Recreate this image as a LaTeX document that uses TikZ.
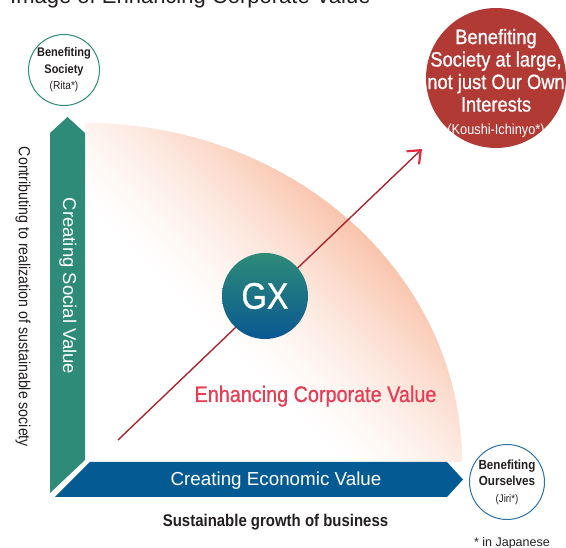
\documentclass[tikz,border=0pt]{standalone}
\usepackage{fontspec}
\setmainfont{Liberation Sans}
\newfontfamily\condfont[FakeStretch=0.88]{Liberation Sans}
\newfontfamily\medfont[FakeStretch=0.88, FakeBold=0.8]{Liberation Sans}
\usetikzlibrary{arrows.meta}

\definecolor{socialGreen}{HTML}{2E8B78}
\definecolor{economicBlue}{HTML}{045B94}
\definecolor{gxBlue}{HTML}{0A5892}
\definecolor{koushiRed}{HTML}{B23A35}
\definecolor{valuePink}{HTML}{E83C55}
\definecolor{arrowLine}{HTML}{A8262E}
\definecolor{arrowTip}{HTML}{E8283F}
\definecolor{fanSalmon}{HTML}{F8BEA4}
\definecolor{textGray}{HTML}{231F20}
\definecolor{jiriBlue}{HTML}{2A72AA}

\newcommand{\setsize}[2]{\fontsize{#1}{#2}\selectfont}

\tikzset{
	benefit/.style={circle, fill=white, line width=1pt, inner sep=0pt, align=center, text=textGray},
	onArrow/.style={text=white, inner sep=0pt},
	axisText/.style={text=textGray, inner sep=0pt}
}

\begin{document}
\begin{tikzpicture}[x=1pt, y=-1pt]
		\useasboundingbox (0,0) rectangle (566,548);

		% title, cut off at the top
		\node[axisText, font=\setsize{22}{24}, anchor=base west](title) at (10,4){Image of Enhancing Corporate Value};

		% fan of corporate value, stripes across the diagonal
		\begin{scope}
			\clip (85,462) -- (85,123) arc[start angle=90, end angle=0, x radius=377pt, y radius=339pt] -- cycle;
			\foreach \s in {254,258,...,720}{
				\pgfmathsetmacro{\mixpct}{100*(min(1,(\s-250)/270))^1.5}
				\fill[fanSalmon!\mixpct!white] (85+\s,462) -- (85,462-\s) -- (85,462-\s-5) -- (85+\s+5,462) -- cycle;
			}
		\end{scope}

		% draw value arrows
		\fill[socialGreen] (50,493) -- (50,133) -- (67.5,117) -- (85,133) -- (85,460) -- cycle;
		\fill[economicBlue] (55,497) -- (90,462) -- (447,462) -- (463,479.5) -- (447,497) -- cycle;
		\node[onArrow, rotate=-90, font=\setsize{18.5}{20}](socialText) at (68,286){Creating Social Value};
		\node[onArrow, font=\setsize{18.8}{20}, anchor=base](economicText) at (276,486){Creating Economic Value};

		% draw growth edge
		\coordinate (growStart) at (118,440);
		\coordinate (growEnd) at (422,149);
		\draw[arrowLine, line width=1.4pt, -{Straight Barb[length=11pt, width=18pt, color=arrowTip, line width=2.2pt]}] (growStart) -- (growEnd);

		\node[circle, minimum size=86pt, inner sep=0pt, top color=socialGreen, bottom color=gxBlue, text=white, font=\medfont\setsize{37}{37}](gx) at (265,296){GX};
		\node[text=valuePink, inner sep=0pt, font=\medfont\setsize{22.5}{24}, anchor=base](valueText) at (315.5,402){Enhancing Corporate Value};

		% benefit circles
		\node[benefit, draw=socialGreen, minimum size=71pt, font=\condfont\bfseries\setsize{12.5}{16.5}](rita) at (64,70){Benefiting\\Society\\{\mdseries\setsize{11.5}{16.5}(Rita*)}};
		\node[benefit, draw=jiriBlue, minimum size=75pt, font=\condfont\bfseries\setsize{13.2}{16.5}](jiri) at (507,482){Benefiting\\Ourselves\\{\mdseries\setsize{11}{16.5}(Jiri*)}};
		\node[circle, fill=koushiRed, minimum size=140pt, inner sep=0pt](koushi) at (496,78){};
		\node[text=white, align=center, inner sep=0pt, font=\medfont\setsize{20.8}{22.5}](koushiText) at ([yshift=-5pt]koushi.center){Benefiting\\Society at large,\\not just Our Own\\Interests\\{\condfont\setsize{14.5}{22.5}(Koushi-Ichinyo*)}};

		% axis texts
		\node[axisText, rotate=-90, font=\condfont\setsize{16.1}{18}](societyAxis) at (23,297){Contributing to realization of sustainable society};
		\node[axisText, font=\condfont\bfseries\setsize{17}{18}, anchor=base](businessAxis) at (275.5,527){Sustainable growth of business};
		\node[axisText, font=\setsize{12.5}{14}, anchor=base east](note) at (550,547){* in Japanese};

	\end{tikzpicture}
\end{document}
